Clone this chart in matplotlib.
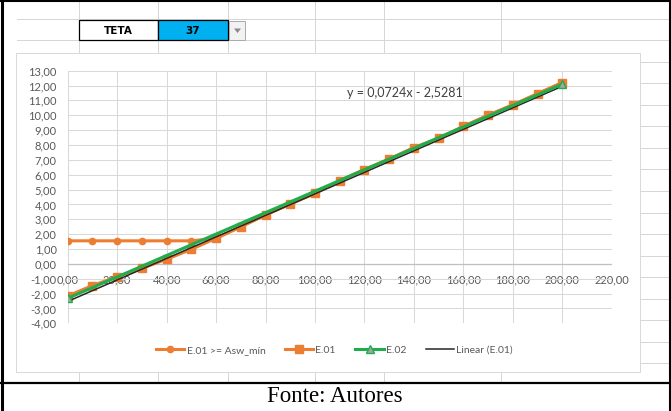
import matplotlib.pyplot as plt
from matplotlib.patches import Rectangle, Polygon

# data
x_vals = [0, 10, 20, 30, 40, 50, 60, 70, 80, 90, 100,
          110, 120, 130, 140, 150, 160, 170, 180, 190, 200]
e01 = [-2.16, -1.46, -0.86, -0.30, 0.31, 0.98, 1.72, 2.50, 3.29, 4.03, 4.75,
       5.60, 6.35, 7.05, 7.82, 8.45, 9.25, 10.00, 10.70, 11.45, 12.20]
e01_min = [1.55, 1.55, 1.55, 1.55, 1.55, 1.55, 1.72, 2.50, 3.29, 4.03, 4.75,
           5.60, 6.35, 7.05, 7.82, 8.45, 9.25, 10.00, 10.70, 11.45, 12.20]
e02_x = [0, 200]
e02 = [-2.32, 12.10]
trend_x = [0, 200]
trend_slope = 0.0724
trend_int = -2.5281
labels = ["E.01 >= Asw_mín", "E.01", "E.02", "Linear (E.01)"]
x_ticks = list(range(0, 221, 20))
y_ticks = list(range(-4, 14))
teta = 37

orange = "#ED7D31"
green = "#1FAE4B"
grid_c = "#D9D9D9"
sheet_c = "#D6D6D6"

W, H = 671, 411
fig = plt.figure(figsize=(W / 100, H / 100), dpi=100)

# spreadsheet background drawn in pixel coordinates
bg = fig.add_axes([0, 0, 1, 1], zorder=0)
bg.set_xlim(0, W)
bg.set_ylim(H, 0)
bg.axis("off")
px = 0.72
for cx in [79, 158, 228, 315, 384, 501]:
    bg.plot([cx, cx], [0, 383], color=sheet_c, lw=px)
for k in range(17):
    ry = 19 + 21.5 * k
    bg.plot([17, 668], [ry, ry], color=sheet_c, lw=px)
bg.add_patch(Rectangle((16, 53), 624, 319, facecolor="white",
                       edgecolor=grid_c, lw=px, zorder=2))
bg.add_patch(Rectangle((79, 20), 79, 20, facecolor="white",
                       edgecolor="black", lw=0.9, zorder=3))
bg.add_patch(Rectangle((158, 20), 70, 20, facecolor="#00B0F0",
                       edgecolor="black", lw=0.9, zorder=3))
bg.add_patch(Rectangle((229, 21), 16, 19, facecolor="#F2F2F2",
                       edgecolor="#ABABAB", lw=px, zorder=3))
bg.add_patch(Polygon([[234, 28.5], [241, 28.5], [237.5, 33]],
                     facecolor="#8A8A8A", edgecolor="none", zorder=4))
bg.text(118.5, 30.5, "TETA", ha="center", va="center", fontsize=7.5,
        fontweight="bold", zorder=4)
bg.text(193, 30.5, str(teta), ha="center", va="center", fontsize=7.5,
        fontweight="bold", zorder=4)
bg.plot([1.5, 1.5], [0, H], color="black", lw=2.2, zorder=5)
bg.plot([669.5, 669.5], [0, H], color="black", lw=1.5, zorder=5)
bg.plot([0, W], [1, 1], color="black", lw=1.5, zorder=5)
bg.plot([0, W], [383, 383], color="black", lw=1.6, zorder=5)
bg.text(335, 396, "Fonte: Autores", ha="center", va="center",
        family="Liberation Serif", fontsize=16.5, zorder=5)

# chart
ax = fig.add_axes([67.7 / W, 1 - 323.3 / H, 544 / W, 252.6 / H], zorder=1)
ax.set_facecolor("none")
ax.set_xlim(0, 220)
ax.set_ylim(-4, 13)
ax.set_xticks(x_ticks)
ax.set_xticklabels([f"{v:.2f}".replace(".", ",") for v in x_ticks])
ax.set_yticks(y_ticks)
ax.set_yticklabels([f"{v:.2f}".replace(".", ",") for v in y_ticks])
ax.grid(True, color=grid_c, lw=0.75, zorder=0)
ax.set_axisbelow(True)
ax.spines["bottom"].set_position(("data", 0))
for s in ax.spines.values():
    s.set_visible(False)
ax.axhline(0, color="#BFBFBF", lw=0.9, zorder=1)
ax.tick_params(length=0, labelsize=8, labelcolor="#595959")
ax.tick_params(axis="x", pad=7.5)
ax.tick_params(axis="y", pad=8)
for t in ax.get_xticklabels() + ax.get_yticklabels():
    t.set_family("Lato")

h1, = ax.plot(x_vals, e01_min, color=orange, lw=2.2, marker="o", ms=4.5,
              zorder=3)
h2, = ax.plot(x_vals, e01, color=orange, lw=2.2, marker="s", ms=5.5,
              zorder=4)
trend_y = [trend_slope * v + trend_int for v in trend_x]
h4, = ax.plot(trend_x, trend_y, color="#262626", lw=1.1, zorder=5)
h3, = ax.plot(e02_x, e02, color=green, lw=2.2, marker="^", ms=5.5,
              markerfacecolor="#A5A5A5", markeredgecolor=green, zorder=6)

ax.text(113, 11.5, "y = 0,0724x - 2,5281", ha="left", va="center",
        fontsize=9, color="#404040", family="Lato")

fig.legend([h1, h2, h3, h4], labels, loc="center", ncol=4, frameon=False,
           bbox_to_anchor=(334.5 / W, 1 - 350 / H), prop={"family": "Lato", "size": 7.5},
           labelcolor="#595959", handlelength=2.7, columnspacing=1.9,
           handletextpad=0.2, numpoints=1)

fig.savefig("out.png", dpi=100)
